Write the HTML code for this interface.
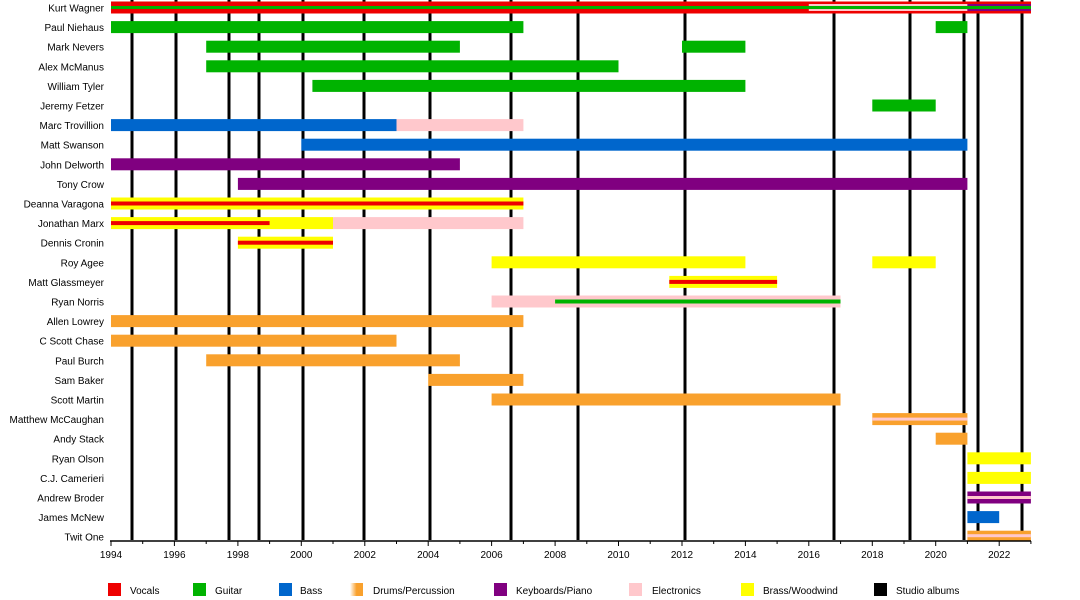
<!DOCTYPE html>
<html><head><meta charset="utf-8"><style>
html,body{margin:0;padding:0;background:#fff;}
svg{display:block;font-family:"Liberation Sans",sans-serif;}
</style></head><body>
<svg width="1080" height="600" viewBox="0 0 1080 600" xmlns="http://www.w3.org/2000/svg">
<defs>
<linearGradient id="dr" x1="0" x2="1" y1="0" y2="0"><stop offset="0" stop-color="#fff"/><stop offset="0.5" stop-color="#f9a12d"/><stop offset="1" stop-color="#f9a12d"/></linearGradient>
</defs>
<g fill="#000">
<rect x="130.5" y="0" width="3" height="540"/><rect x="174.5" y="0" width="3" height="540"/><rect x="227.5" y="0" width="3" height="540"/><rect x="257.5" y="0" width="3" height="540"/><rect x="301.5" y="0" width="3" height="540"/><rect x="362.5" y="0" width="3" height="540"/><rect x="428.5" y="0" width="3" height="540"/><rect x="509.5" y="0" width="3" height="540"/><rect x="576.5" y="0" width="3" height="540"/><rect x="683.5" y="0" width="3" height="540"/><rect x="832.5" y="0" width="3" height="540"/><rect x="908.5" y="0" width="3" height="540"/><rect x="962.5" y="0" width="3" height="540"/><rect x="976.5" y="0" width="3" height="540"/><rect x="1020.5" y="0" width="3" height="540"/>
</g>
<g>
<rect x="111" y="1.5" width="920" height="12" fill="#ee0000"/>
<rect x="808.8" y="4" width="158.6" height="7" fill="#ffc8cc"/>
<rect x="967.4" y="4" width="63.5" height="7" fill="#800080"/>
<rect x="111" y="6" width="920" height="3" fill="#00b300"/>

<rect x="111" y="21.1" width="412.4" height="12" fill="#00b300"/>
<rect x="935.7" y="21.1" width="31.7" height="12" fill="#00b300"/>
<rect x="206.2" y="40.7" width="253.7" height="12" fill="#00b300"/>
<rect x="682" y="40.7" width="63.4" height="12" fill="#00b300"/>
<rect x="206.2" y="60.3" width="412.3" height="12" fill="#00b300"/>
<rect x="312.4" y="79.9" width="433" height="12" fill="#00b300"/>
<rect x="872.3" y="99.5" width="63.4" height="12" fill="#00b300"/>

<rect x="111" y="119.1" width="285.5" height="12" fill="#0066cc"/>
<rect x="396.5" y="119.1" width="126.9" height="12" fill="#ffc8cc"/>
<rect x="301.3" y="138.7" width="666.1" height="12" fill="#0066cc"/>
<rect x="111" y="158.3" width="348.9" height="12" fill="#800080"/>
<rect x="237.9" y="177.9" width="729.5" height="12" fill="#800080"/>

<rect x="111" y="197.5" width="412.4" height="12" fill="#ffff00"/>
<rect x="111" y="201.5" width="412.4" height="4" fill="#ee0000"/>
<rect x="111" y="217.1" width="222" height="12" fill="#ffff00"/>
<rect x="111" y="221.1" width="158.6" height="4" fill="#ee0000"/>
<rect x="333" y="217.1" width="190.4" height="12" fill="#ffc8cc"/>
<rect x="237.9" y="236.7" width="95.1" height="12" fill="#ffff00"/>
<rect x="237.9" y="240.7" width="95.1" height="4" fill="#ee0000"/>
<rect x="491.6" y="256.3" width="253.8" height="12" fill="#ffff00"/>
<rect x="872.3" y="256.3" width="63.4" height="12" fill="#ffff00"/>
<rect x="669.3" y="275.9" width="107.8" height="12" fill="#ffff00"/>
<rect x="669.3" y="279.9" width="107.8" height="4" fill="#ee0000"/>
<rect x="491.6" y="295.5" width="348.9" height="12" fill="#ffc8cc"/>
<rect x="555.1" y="299.5" width="285.4" height="4" fill="#00b300"/>

<rect x="111" y="315.1" width="412.4" height="12" fill="#f9a12d"/>
<rect x="111" y="334.7" width="285.5" height="12" fill="#f9a12d"/>
<rect x="206.2" y="354.3" width="253.7" height="12" fill="#f9a12d"/>
<rect x="428.2" y="373.9" width="95.2" height="12" fill="#f9a12d"/>
<rect x="491.6" y="393.5" width="348.9" height="12" fill="#f9a12d"/>
<rect x="872.3" y="413.1" width="95.1" height="12" fill="#f9a12d"/>
<rect x="872.3" y="417.6" width="95.1" height="3" fill="#ffc8cc"/>
<rect x="935.7" y="432.7" width="31.7" height="12" fill="#f9a12d"/>

<rect x="967.4" y="452.3" width="63.5" height="12" fill="#ffff00"/>
<rect x="967.4" y="471.9" width="63.5" height="12" fill="#ffff00"/>
<rect x="967.4" y="491.5" width="63.5" height="12" fill="#800080"/>
<rect x="967.4" y="496" width="63.5" height="3" fill="#ffc8cc"/>
<rect x="967.4" y="511.1" width="31.8" height="12" fill="#0066cc"/>
<rect x="967.4" y="530.7" width="63.5" height="10" fill="#f9a12d"/>
<rect x="967.4" y="534.2" width="63.5" height="3" fill="#ffc8cc"/>
</g>
<g font-size="10" text-anchor="end" fill="#000">
<text x="104" y="11.5">Kurt Wagner</text>
<text x="104" y="31.1">Paul Niehaus</text>
<text x="104" y="50.7">Mark Nevers</text>
<text x="104" y="70.3">Alex McManus</text>
<text x="104" y="89.9">William Tyler</text>
<text x="104" y="109.5">Jeremy Fetzer</text>
<text x="104" y="129.1">Marc Trovillion</text>
<text x="104" y="148.7">Matt Swanson</text>
<text x="104" y="168.3">John Delworth</text>
<text x="104" y="187.9">Tony Crow</text>
<text x="104" y="207.5">Deanna Varagona</text>
<text x="104" y="227.1">Jonathan Marx</text>
<text x="104" y="246.7">Dennis Cronin</text>
<text x="104" y="266.3">Roy Agee</text>
<text x="104" y="285.9">Matt Glassmeyer</text>
<text x="104" y="305.5">Ryan Norris</text>
<text x="104" y="325.1">Allen Lowrey</text>
<text x="104" y="344.7">C Scott Chase</text>
<text x="104" y="364.3">Paul Burch</text>
<text x="104" y="383.9">Sam Baker</text>
<text x="104" y="403.5">Scott Martin</text>
<text x="104" y="423.1">Matthew McCaughan</text>
<text x="104" y="442.7">Andy Stack</text>
<text x="104" y="462.3">Ryan Olson</text>
<text x="104" y="481.9">C.J. Camerieri</text>
<text x="104" y="501.5">Andrew Broder</text>
<text x="104" y="521.1">James McNew</text>
<text x="104" y="540.7">Twit One</text>
</g>
<line x1="110" y1="541" x2="1031" y2="541" stroke="#000" stroke-width="1.5"/>
<g stroke="#000" stroke-width="1">
<line x1="111" y1="541" x2="111" y2="546"/><line x1="142.7" y1="541" x2="142.7" y2="544"/><line x1="174.4" y1="541" x2="174.4" y2="546"/><line x1="206.2" y1="541" x2="206.2" y2="544"/><line x1="237.9" y1="541" x2="237.9" y2="546"/><line x1="269.6" y1="541" x2="269.6" y2="544"/><line x1="301.3" y1="541" x2="301.3" y2="546"/><line x1="333" y1="541" x2="333" y2="544"/><line x1="364.8" y1="541" x2="364.8" y2="546"/><line x1="396.5" y1="541" x2="396.5" y2="544"/><line x1="428.2" y1="541" x2="428.2" y2="546"/><line x1="459.9" y1="541" x2="459.9" y2="544"/><line x1="491.6" y1="541" x2="491.6" y2="546"/><line x1="523.4" y1="541" x2="523.4" y2="544"/><line x1="555.1" y1="541" x2="555.1" y2="546"/><line x1="586.8" y1="541" x2="586.8" y2="544"/><line x1="618.5" y1="541" x2="618.5" y2="546"/><line x1="650.2" y1="541" x2="650.2" y2="544"/><line x1="682" y1="541" x2="682" y2="546"/><line x1="713.7" y1="541" x2="713.7" y2="544"/><line x1="745.4" y1="541" x2="745.4" y2="546"/><line x1="777.1" y1="541" x2="777.1" y2="544"/><line x1="808.8" y1="541" x2="808.8" y2="546"/><line x1="840.6" y1="541" x2="840.6" y2="544"/><line x1="872.3" y1="541" x2="872.3" y2="546"/><line x1="904" y1="541" x2="904" y2="544"/><line x1="935.7" y1="541" x2="935.7" y2="546"/><line x1="967.4" y1="541" x2="967.4" y2="544"/><line x1="999.2" y1="541" x2="999.2" y2="546"/><line x1="1030.9" y1="541" x2="1030.9" y2="544"/>
</g>
<g font-size="10" text-anchor="middle" fill="#000">
<text x="111" y="558">1994</text><text x="174.4" y="558">1996</text><text x="237.9" y="558">1998</text><text x="301.3" y="558">2000</text><text x="364.8" y="558">2002</text><text x="428.2" y="558">2004</text><text x="491.6" y="558">2006</text><text x="555.1" y="558">2008</text><text x="618.5" y="558">2010</text><text x="682" y="558">2012</text><text x="745.4" y="558">2014</text><text x="808.8" y="558">2016</text><text x="872.3" y="558">2018</text><text x="935.7" y="558">2020</text><text x="999.2" y="558">2022</text>
</g>
<g font-size="10" fill="#000">
<rect x="108" y="583" width="13" height="13" fill="#ee0000"/><text x="130" y="594">Vocals</text>
<rect x="193" y="583" width="13" height="13" fill="#00b300"/><text x="215" y="594">Guitar</text>
<rect x="279" y="583" width="13" height="13" fill="#0066cc"/><text x="300" y="594">Bass</text>
<rect x="350" y="583" width="13" height="13" fill="url(#dr)"/><text x="373" y="594">Drums/Percussion</text>
<rect x="494" y="583" width="13" height="13" fill="#800080"/><text x="516" y="594">Keyboards/Piano</text>
<rect x="629" y="583" width="13" height="13" fill="#ffc8cc"/><text x="652" y="594">Electronics</text>
<rect x="741" y="583" width="13" height="13" fill="#ffff00"/><text x="763" y="594">Brass/Woodwind</text>
<rect x="874" y="583" width="13" height="13" fill="#000"/><text x="896" y="594">Studio albums</text>
</g>
</svg>
</body></html>
